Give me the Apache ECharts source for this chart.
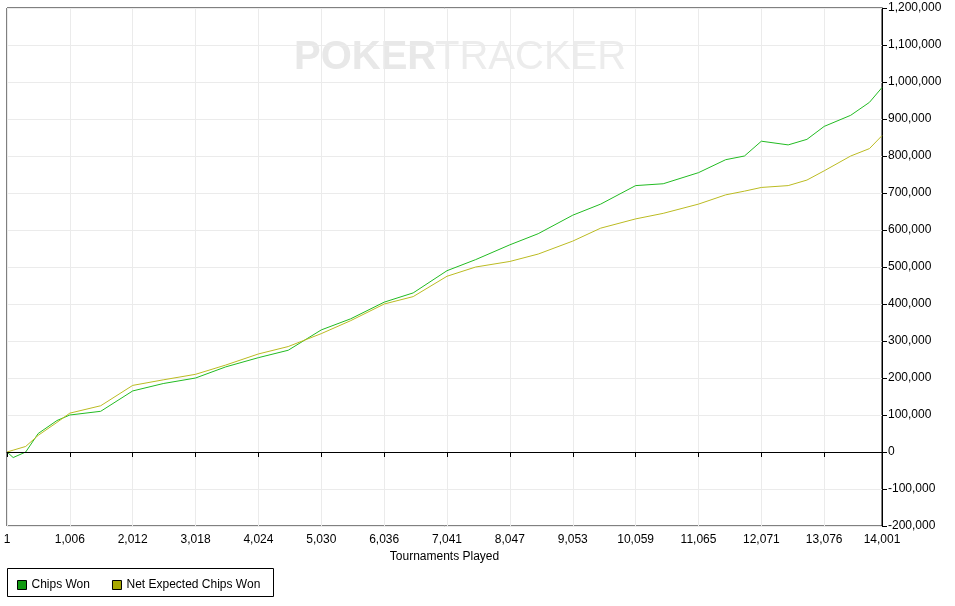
<!DOCTYPE html>
<html><head><meta charset="utf-8">
<script src="https://cdn.jsdelivr.net/npm/echarts@6/dist/echarts.min.js"></script>
<style>html,body{margin:0;padding:0;background:#fff}#c{width:955px;height:606px}</style>
</head><body><div id="c"></div>
<script>
const tickLabels=[1,1006,2012,3018,4024,5030,6036,7041,8047,9053,10059,11065,12071,13076,14001];
const tPoints=[1,100,300,500,800,1006,1500,2012,2500,3018,3500,4024,4500,5030,5500,6036,6500,7041,7500,8047,8500,9053,9500,10059,10500,11065,11500,11800,12071,12500,12800,13076,13500,13800,14001];
const chipsWon=[0,-15000,0,50000,85000,100000,110000,165000,185000,200000,230000,255000,275000,330000,360000,405000,430000,490000,520000,560000,590000,640000,670000,720000,725000,755000,790000,800000,840000,830000,845000,880000,910000,945000,985000];
const netExpected=[0,5000,15000,45000,80000,105000,125000,180000,195000,210000,235000,265000,285000,320000,355000,400000,420000,475000,500000,515000,535000,570000,605000,630000,645000,670000,695000,705000,715000,720000,735000,760000,800000,820000,855000];
const fmt=v=>Math.round(v).toLocaleString('en-US');
const chart=echarts.init(document.getElementById('c'));
chart.setOption({
  animation:false,
  textStyle:{fontFamily:'Liberation Sans, Arial, sans-serif'},
  graphic:[
    {type:'text',left:294,top:38,style:{text:'POKER',font:'bold 40px Liberation Sans',fill:'#e8e8e8'},z:0,silent:true},
    {type:'text',left:435,top:38,style:{text:'TRACKER',font:'40px Liberation Sans',fill:'#ececec'},z:0,silent:true},
    {type:'rect',shape:{x:7.5,y:568.5,width:266,height:28},style:{fill:'none',stroke:'#000',lineWidth:1}}
  ],
  grid:{left:7,right:73,top:8,bottom:80,show:true,borderColor:'#000',borderWidth:1},
  legend:{left:12,top:574,itemWidth:9,itemHeight:9,itemGap:22,icon:'rect',
    textStyle:{fontSize:12,color:'#000'},
    data:[{name:'Chips Won',itemStyle:{color:'#119911',borderColor:'#000',borderWidth:1}},
          {name:'Net Expected Chips Won',itemStyle:{color:'#a8a800',borderColor:'#000',borderWidth:1}}]},
  xAxis:{type:'value',min:1,max:14001,name:'Tournaments Played',nameLocation:'middle',nameGap:22,
    nameTextStyle:{fontSize:12,color:'#000'},
    axisLine:{lineStyle:{color:'#000'}},
    axisTick:{customValues:tickLabels,length:5,lineStyle:{color:'#000'}},
    axisLabel:{customValues:tickLabels,formatter:fmt,color:'#000',fontSize:12,margin:8},
    splitLine:{show:true,lineStyle:{color:'#ebebeb'}}},
  yAxis:{type:'value',position:'right',min:-200000,max:1200000,interval:100000,
    axisLine:{show:true,lineStyle:{color:'#000'}},
    axisTick:{show:true,length:5,lineStyle:{color:'#000'}},
    axisLabel:{formatter:fmt,color:'#000',fontSize:12,margin:6},
    splitLine:{show:true,lineStyle:{color:'#ebebeb'}}},
  series:[
    {name:'Chips Won',type:'line',symbol:'none',lineStyle:{width:1,color:'#22bb22'},itemStyle:{color:'#119911'},
     data:tPoints.map((t,i)=>[t,chipsWon[i]]),
     markLine:{silent:true,symbol:'none',label:{show:false},lineStyle:{color:'#000',type:'solid',width:1},data:[{yAxis:0}]}},
    {name:'Net Expected Chips Won',type:'line',symbol:'none',lineStyle:{width:1,color:'#bbbb22'},itemStyle:{color:'#a8a800'},
     data:tPoints.map((t,i)=>[t,netExpected[i]])}
  ]
});
</script></body></html>
